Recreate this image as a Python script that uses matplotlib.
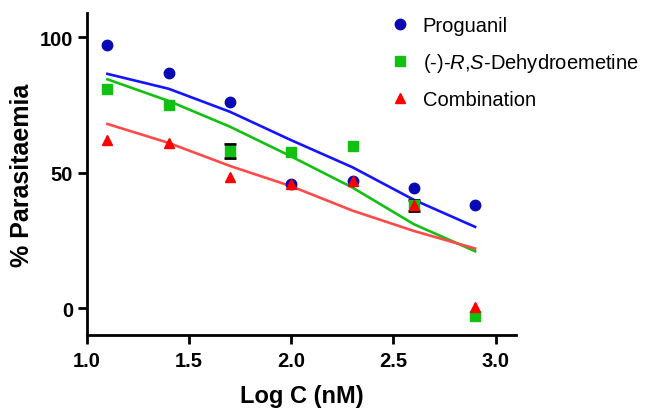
import numpy as np
import matplotlib
matplotlib.use("Agg")
import matplotlib.pyplot as plt

plt.rcParams['font.family'] = ['Liberation Sans', 'DejaVu Sans']
plt.rcParams['mathtext.fontset'] = 'custom'
plt.rcParams['mathtext.rm'] = 'Liberation Sans'
plt.rcParams['mathtext.it'] = 'Liberation Sans:italic'

# measured points (log concentration vs % parasitaemia)
log_c = [1.1, 1.4, 1.7, 2.0, 2.3, 2.6, 2.9]
proguanil = [97, 87, 76, 46, 47, 44.5, 38]
dehydroemetine = [81, 75, 58, 57.5, 60, 38, -3]
combination = [62, 61, 48.5, 46, 47, 38, 0.5]

# the two points that show an error bar
err_x = [1.7, 2.6]
err_y = [58, 38]
err_size = [2.5, 2]

# fitted curves
fit_x = [1.1, 1.4, 1.7, 2.0, 2.3, 2.6, 2.9]
fit_proguanil = [86.5, 81, 72.5, 62, 52, 40, 30]
fit_dehydro = [84.5, 76.5, 67, 56, 44.5, 31, 21]
fit_combination = [68, 61, 52.5, 45, 36, 28.5, 22]

x_ticks = [1.0, 1.5, 2.0, 2.5, 3.0]
y_ticks = [0, 50, 100]

blue_line, blue_dot = '#1414ff', '#0a0ab4'
green = '#12c012'
red_line, red_dot = '#ff4a4a', '#ff0000'

fig = plt.figure(figsize=(6.49, 4.10), dpi=100)
ax = fig.add_axes([0.134, 0.180, 0.661, 0.786])

ax.plot(fit_x, fit_proguanil, color=blue_line, lw=1.9, zorder=2)
ax.plot(fit_x, fit_dehydro, color=green, lw=1.9, zorder=2)
ax.plot(fit_x, fit_combination, color=red_line, lw=1.9, zorder=2)

ax.plot(log_c, proguanil, 'o', color=blue_dot, ms=7.5, zorder=3,
        label='Proguanil')
ax.errorbar(err_x, err_y, yerr=err_size, fmt='none', ecolor='black',
            elinewidth=1.5, capsize=4, capthick=2, zorder=3.5)
ax.plot(log_c, dehydroemetine, 's', color=green, ms=7.5, zorder=4,
        label='(-)-$\\mathit{R}$,$\\mathit{S}$-Dehydroemetine')
ax.plot(log_c, combination, '^', color=red_dot, ms=7.5, zorder=5,
        label='Combination')

ax.set_xlim(1.0, 3.1)
ax.set_ylim(-10, 109)
ax.set_xticks(x_ticks)
ax.set_xticklabels([f'{t:.1f}' for t in x_ticks])
ax.set_yticks(y_ticks)

for s in ['top', 'right']:
    ax.spines[s].set_visible(False)
for s in ['left', 'bottom']:
    ax.spines[s].set_linewidth(2)
ax.tick_params(width=2, length=6.5, labelsize=14.5)
ax.tick_params(axis='x', pad=5)
ax.tick_params(axis='y', pad=3.5)
for lab in ax.get_xticklabels() + ax.get_yticklabels():
    lab.set_fontweight('bold')

ax.set_xlabel('Log C (nM)', fontsize=17, fontweight='bold', labelpad=10)
ax.set_ylabel('% Parasitaemia', fontsize=18, fontweight='bold', labelpad=4)

leg = ax.legend(loc='upper left', bbox_to_anchor=(0.586, 0.978),
                bbox_transform=fig.transFigure, frameon=False, fontsize=14.5,
                handletextpad=0.5, labelspacing=0.8, handlelength=1.2,
                borderaxespad=0)

fig.savefig('out.png', dpi=100)
